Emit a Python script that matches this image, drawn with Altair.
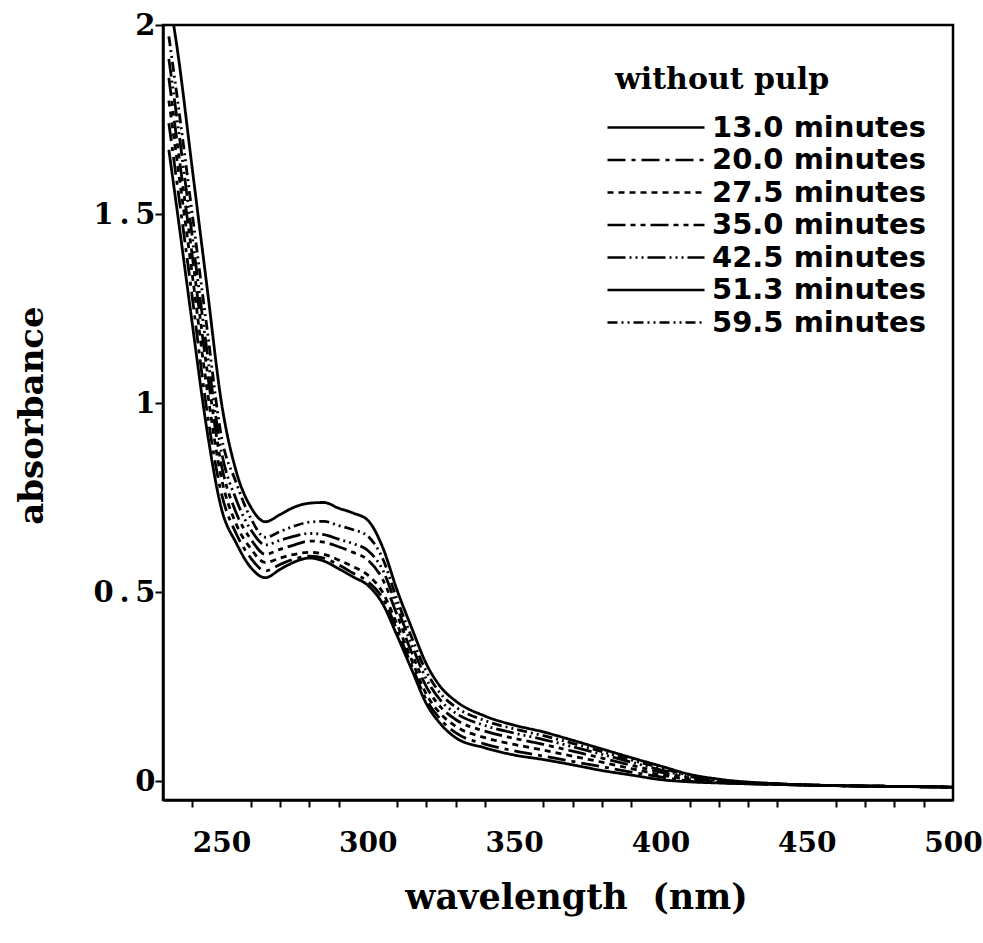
import altair as alt
import pandas as pd

wavelength = [232, 235, 240, 245, 250, 255, 260, 265, 270, 275, 280, 285, 290, 295,
              300, 305, 310, 315, 320, 325, 330, 340, 350, 360, 370, 380, 390, 400,
              410, 420, 440, 460, 480, 500]

series_labels = ["13.0 minutes", "20.0 minutes", "27.5 minutes", "35.0 minutes",
                 "42.5 minutes", "51.3 minutes", "59.5 minutes"]

abs_13_0 = [1.67, 1.50, 1.21, 0.93, 0.72, 0.63, 0.565, 0.538, 0.56, 0.58, 0.59, 0.582, 0.562, 0.54,
            0.518, 0.47, 0.385, 0.295, 0.205, 0.15, 0.115, 0.088, 0.069, 0.057, 0.043, 0.028, 0.016, 0.004,
            -0.002, -0.005, -0.009, -0.012, -0.014, -0.016]
abs_20_0 = [1.74, 1.57, 1.28, 0.98, 0.76, 0.655, 0.59, 0.556, 0.573, 0.588, 0.595, 0.59, 0.572, 0.55,
            0.528, 0.485, 0.40, 0.305, 0.215, 0.162, 0.128, 0.098, 0.08, 0.066, 0.052, 0.038, 0.024, 0.011,
            0.0, -0.004, -0.009, -0.012, -0.014, -0.016]
abs_27_5 = [1.80, 1.63, 1.34, 1.04, 0.80, 0.68, 0.615, 0.578, 0.59, 0.60, 0.605, 0.60, 0.585, 0.567,
            0.545, 0.50, 0.415, 0.32, 0.23, 0.177, 0.145, 0.115, 0.097, 0.082, 0.066, 0.05, 0.033, 0.017,
            0.004, -0.003, -0.008, -0.012, -0.014, -0.016]
abs_35_0 = [1.86, 1.68, 1.39, 1.09, 0.835, 0.71, 0.64, 0.60, 0.613, 0.625, 0.635, 0.632, 0.62, 0.605,
            0.585, 0.535, 0.44, 0.34, 0.25, 0.195, 0.163, 0.132, 0.113, 0.097, 0.079, 0.061, 0.042, 0.024,
            0.008, -0.001, -0.008, -0.012, -0.014, -0.016]
abs_42_5 = [1.91, 1.74, 1.44, 1.14, 0.87, 0.745, 0.665, 0.625, 0.637, 0.648, 0.655, 0.652, 0.64, 0.628,
            0.61, 0.56, 0.46, 0.36, 0.27, 0.212, 0.18, 0.147, 0.127, 0.11, 0.091, 0.071, 0.05, 0.03,
            0.012, 0.001, -0.008, -0.012, -0.014, -0.016]
abs_51_3 = [2.08, 1.93, 1.62, 1.31, 1.00, 0.82, 0.725, 0.686, 0.705, 0.725, 0.735, 0.737, 0.722, 0.709,
            0.69, 0.62, 0.505, 0.405, 0.31, 0.248, 0.212, 0.172, 0.148, 0.13, 0.108, 0.085, 0.062, 0.04,
            0.018, 0.005, -0.007, -0.012, -0.014, -0.016]
abs_59_5 = [1.97, 1.80, 1.50, 1.20, 0.91, 0.79, 0.695, 0.645, 0.66, 0.675, 0.685, 0.687, 0.676, 0.665,
            0.648, 0.59, 0.48, 0.38, 0.29, 0.23, 0.196, 0.16, 0.138, 0.12, 0.10, 0.078, 0.056, 0.035,
            0.015, 0.003, -0.007, -0.012, -0.014, -0.016]

x_tick_values = [240, 250, 260, 270, 280, 290, 300, 310, 320, 330, 340, 350, 360, 370, 380,
                 390, 400, 410, 420, 430, 440, 450, 460, 470, 480, 490, 500]
y_tick_values = [0, 0.5, 1, 1.5, 2]

dash_patterns = [[1, 0], [18, 6, 4, 6], [6, 5], [18, 5, 5, 5, 5, 5],
                 [18, 4, 2, 4, 2, 4, 2, 4], [1, 0], [10, 4, 2, 4, 2, 4]]

all_series = [abs_13_0, abs_20_0, abs_27_5, abs_35_0, abs_42_5, abs_51_3, abs_59_5]
rows = []
for label, vals in zip(series_labels, all_series):
    for w, v in zip(wavelength, vals):
        rows.append({"wavelength": w, "absorbance": v, "series": label})
df = pd.DataFrame(rows)

chart = alt.Chart(df).mark_line(
    strokeWidth=2.8, color="black", interpolate="monotone", clip=True
).encode(
    x=alt.X(
        "wavelength:Q",
        scale=alt.Scale(domain=[230, 500], nice=False, zero=False),
        axis=alt.Axis(
            values=x_tick_values,
            labelExpr="datum.value % 50 === 0 ? toString(datum.value) : ''",
            tickSize=7, tickWidth=2, tickColor="black",
            tickOpacity={"condition": {"test": "datum.value % 50 === 0", "value": 0}, "value": 1},
            domainWidth=2.5, domainColor="black", grid=False,
            labelFont="DejaVu Serif", labelFontWeight="bold", labelFontSize=28,
            labelColor="black", labelPadding=22, labelFlush=False, labelOverlap=False,
            title="wavelength\u00a0\u00a0(nm)", titleFont="DejaVu Serif", titleFontSize=35,
            titleFontWeight="bold", titleColor="black", titleX=413, titleY=80,
        ),
    ),
    y=alt.Y(
        "absorbance:Q",
        scale=alt.Scale(domain=[-0.05, 2.0], nice=False, zero=False),
        axis=alt.Axis(
            values=y_tick_values,
            labelExpr="replace(toString(datum.value), '.', '\u2009.\u2009')",
            tickSize=8, tickWidth=2, tickColor="black",
            domainWidth=2.5, domainColor="black", grid=False,
            labelFont="DejaVu Serif", labelFontWeight="bold", labelFontSize=29,
            labelColor="black", labelPadding=0, labelFlush=False,
            title="absorbance", titleFont="DejaVu Serif", titleFontSize=34,
            titleFontWeight="bold", titleColor="black", titleX=-121, titleY=390,
            titleBaseline="alphabetic",
        ),
    ),
    strokeDash=alt.StrokeDash(
        "series:N",
        scale=alt.Scale(domain=series_labels, range=dash_patterns),
        legend=alt.Legend(
            title="without pulp", orient="none", legendX=452, legendY=40,
            symbolType="M-2.2,0H7.5", symbolSize=400, symbolStrokeWidth=2.6,
            symbolStrokeColor="black", labelOffset=68,
            labelFont="DejaVu Sans", labelFontSize=29, labelFontWeight="bold",
            labelColor="black", labelLimit=400, titleLimit=500,
            titleFont="DejaVu Serif", titleFontSize=30, titleFontWeight="bold",
            titleColor="black", titlePadding=18, rowPadding=2.5, padding=0,
        ),
    ),
).properties(
    width=790, height=775,
    autosize=alt.AutoSizeParams(type="none"),
    padding={"left": 163, "top": 25, "right": 30, "bottom": 143},
    background="white",
).configure_view(
    stroke="black", strokeWidth=2.5
)

chart.save("out.html", embed_options={"renderer": "svg", "actions": False})
